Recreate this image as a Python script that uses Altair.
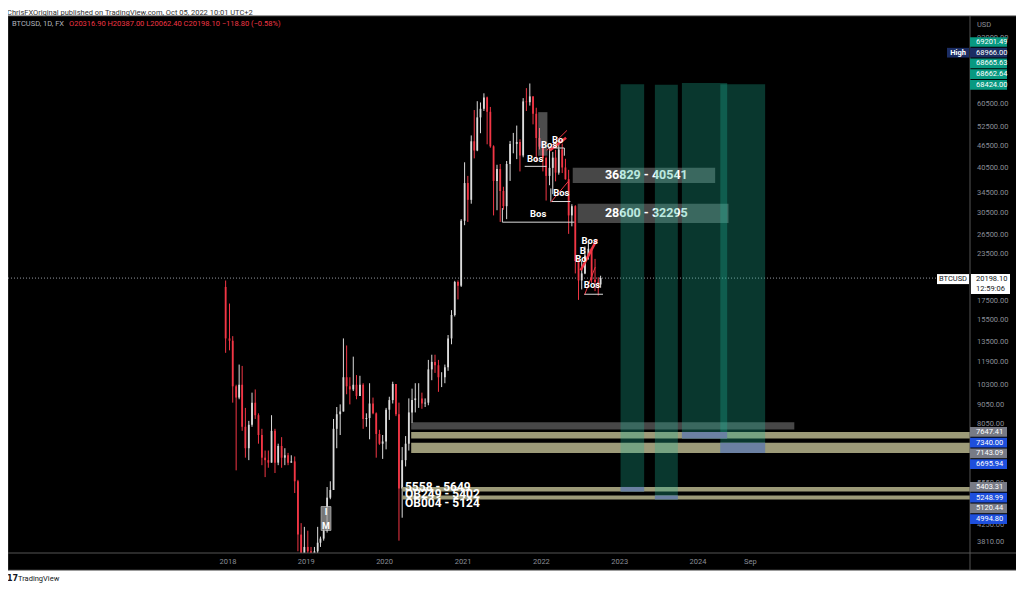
import math
import altair as alt
import pandas as pd

# ---------------- values ----------------
candle_dates = ["2017-12-21", "2018-01-08", "2018-01-23", "2018-02-08", "2018-02-22", "2018-03-08", "2018-03-23",
                "2018-04-08", "2018-04-23", "2018-05-08", "2018-05-23", "2018-06-08", "2018-06-23", "2018-07-08",
                "2018-07-23", "2018-08-08", "2018-08-23", "2018-09-08", "2018-09-23", "2018-10-08", "2018-10-23",
                "2018-11-08", "2018-11-23", "2018-12-08", "2018-12-23", "2019-01-08", "2019-01-23", "2019-02-08",
                "2019-02-23", "2019-03-08", "2019-03-23", "2019-04-08", "2019-04-23", "2019-05-08", "2019-05-23",
                "2019-06-08", "2019-06-23", "2019-07-08", "2019-07-23", "2019-08-08", "2019-08-23", "2019-09-08",
                "2019-09-23", "2019-10-08", "2019-10-23", "2019-11-08", "2019-11-23", "2019-12-08", "2019-12-23",
                "2020-01-08", "2020-01-23", "2020-02-08", "2020-02-23", "2020-03-08", "2020-03-23", "2020-04-08",
                "2020-04-23", "2020-05-08", "2020-05-23", "2020-06-08", "2020-06-23", "2020-07-08", "2020-07-23",
                "2020-08-08", "2020-08-23", "2020-09-08", "2020-09-23", "2020-10-08", "2020-10-23", "2020-11-08",
                "2020-11-23", "2020-12-08", "2020-12-23", "2021-01-08", "2021-01-23", "2021-02-08", "2021-02-22",
                "2021-03-08", "2021-03-23", "2021-04-08", "2021-04-23", "2021-05-08", "2021-05-23", "2021-06-08",
                "2021-06-23", "2021-07-08", "2021-07-23", "2021-08-08", "2021-08-23", "2021-09-08", "2021-09-23",
                "2021-10-08", "2021-10-23", "2021-11-08", "2021-11-23", "2021-12-08", "2021-12-23", "2022-01-08",
                "2022-01-23", "2022-02-08", "2022-02-23", "2022-03-08", "2022-03-23", "2022-04-08", "2022-04-23",
                "2022-05-08", "2022-05-23", "2022-06-08", "2022-06-23", "2022-07-08", "2022-07-23", "2022-08-08",
                "2022-08-23", "2022-09-08", "2022-09-23", "2022-10-04"]
candle_open = [19100, 13800, 13600, 10200, 9500, 10300, 7900, 6900, 8000, 9200, 8500, 7500, 6500, 6400,
               6300, 7700, 6300, 7000, 6500, 6600, 6300, 6350, 5600, 4000, 3300, 3700, 3600, 3450,
               3600, 3800, 3900, 4100, 5050, 5300, 7800, 8550, 8700, 10800, 10200, 10000, 10300, 9600,
               10300, 8300, 8350, 9150, 8600, 7550, 7100, 7200, 8800, 9350, 10350, 8550, 5350, 6400,
               7100, 8650, 9350, 9450, 9450, 9150, 9200, 11350, 11900, 11650, 10800, 10800, 11500, 13800,
               16000, 19700, 19250, 29000, 36800, 33100, 47900, 45200, 55700, 58800, 63200, 57700, 46400, 37300,
               40200, 35000, 31800, 41500, 47100, 47100, 47700, 43800, 61600, 61300, 63600, 57000, 48900, 46300,
               43100, 38500, 40500, 43200, 39300, 45500, 40600, 37700, 30000, 31800, 22500, 19900, 20800, 23300,
               24300, 20000, 19700, 19400]
candle_high = [19890, 17200, 14000, 10300, 11700, 11600, 8900, 8200, 9800, 10000, 8600, 7800, 6800, 6800,
               8500, 7800, 7100, 7400, 6900, 6700, 6600, 6550, 5650, 4300, 4200, 4100, 3700, 3700,
               4200, 3950, 4150, 5400, 5600, 8300, 8950, 9100, 13800, 13200, 10800, 12300, 10950, 10900,
               10400, 8600, 10400, 9500, 8650, 7750, 7500, 8900, 9550, 10500, 10350, 9200, 6950, 7450,
               9450, 10050, 10400, 10400, 9800, 9450, 12050, 12450, 12450, 12050, 11150, 11700, 14100, 16500,
               19850, 19900, 29300, 41950, 38500, 49700, 58350, 61700, 61200, 64850, 63500, 59500, 46700, 41300,
               41500, 35950, 42300, 48000, 50500, 52900, 48500, 62900, 67000, 69000, 63700, 59200, 52100, 47900,
               43500, 45800, 44800, 45400, 48200, 47200, 42900, 40000, 32200, 32000, 22900, 22500, 24650, 25200,
               24400, 22800, 20300, 20500]
candle_low = [12600, 12800, 9200, 6000, 9400, 7700, 6500, 6400, 7900, 8300, 7100, 6200, 5750, 6100,
              6300, 5900, 6200, 6100, 6200, 6200, 6300, 5200, 3600, 3200, 3250, 3550, 3400, 3400,
              3550, 3700, 3850, 4050, 5000, 5300, 6900, 7500, 8700, 9700, 9100, 9900, 9400, 9600,
              7800, 7900, 7300, 8550, 6500, 7050, 6450, 6850, 8250, 9150, 8450, 3850, 4450, 6150,
              6800, 8100, 8650, 8900, 8850, 8950, 9050, 10600, 11100, 9850, 10150, 10400, 11250, 13300,
              15850, 17650, 19100, 28200, 28800, 32300, 43000, 45000, 50400, 58000, 47000, 46000, 30000, 31000,
              28800, 31100, 29300, 37300, 44400, 42800, 39600, 43300, 58000, 60000, 53300, 42000, 45500, 39600,
              32950, 36300, 34300, 37200, 38800, 39200, 37600, 26700, 28000, 20800, 17600, 18800, 20700, 22700,
              19600, 18600, 18100, 19000]
candle_close = [13800, 13600, 10200, 9500, 10300, 7900, 6900, 8000, 9200, 8500, 7500, 6500, 6400, 6300,
                7700, 6300, 7000, 6500, 6600, 6300, 6350, 5600, 4000, 3300, 3700, 3600, 3450, 3600,
                3800, 3900, 4100, 5050, 5300, 7800, 8550, 8700, 10800, 10200, 10000, 10300, 9600, 10300,
                8300, 8350, 9150, 8600, 7550, 7100, 7200, 8800, 9350, 10350, 8550, 5350, 6400, 7100,
                8650, 9350, 9450, 9450, 9150, 9200, 11350, 11900, 11650, 10800, 10800, 11500, 13800, 16000,
                19700, 19250, 29000, 36800, 33100, 47900, 45200, 55700, 58800, 63200, 57700, 46400, 37300, 40200,
                35000, 31800, 41500, 47100, 47100, 47700, 43800, 61600, 61300, 63600, 57000, 48900, 46300, 43100,
                38500, 40500, 43200, 39300, 45500, 40600, 37700, 30000, 31800, 22500, 19900, 20800, 23300, 24300,
                20000, 19700, 19400, 20198.1]

price_ticks = [92000, 60500, 52500, 46500, 40500, 34500, 30500, 26500, 23500,
               17500, 15500, 13500, 11900, 10300, 9050, 8050, 5550, 4250, 3810]
time_ticks = ["2018-01-01", "2019-01-01", "2020-01-01", "2021-01-01", "2022-01-01",
              "2023-01-01", "2024-01-01", "2024-09-01"]
time_labels = ["2018", "2019", "2020", "2021", "2022", "2023", "2024", "Sep"]

badge_values = [69201.49, 68966.00, 68665.63, 68662.64, 68424.00,
                7647.41, 7340.00, 7143.09, 6695.94, 5403.31, 5248.99, 5120.44, 4994.80]
badge_kinds = ["green", "navy", "green", "green", "green",
               "gray", "blue", "gray", "blue", "gray", "blue", "gray", "blue"]
last_price = 20198.10
last_clock = "12:59:06"

zone_start = ["2023-01-05", "2023-06-14", "2023-10-18", "2024-04-14"]
zone_end = ["2023-04-25", "2023-09-29", "2024-05-16", "2024-11-09"]
zone_top = [68665.63, 68424.00, 69201.49, 68662.64]
zone_bottom = [5248.99, 4994.80, 7340.00, 6695.94]
fill_top = [5403.31, 5120.44, 7647.41, 7143.09]
fill_bottom = [5248.99, 4994.80, 7340.00, 6695.94]

band_start = ["2020-05-04", "2020-05-04", "2020-03-23", "2020-03-23"]
band_end = ["2028-01-01", "2028-01-01", "2028-01-01", "2028-01-01"]
band_top = [7647.41, 7143.09, 5403.31, 5120.44]
band_bottom = [7340.00, 6695.94, 5248.99, 4994.80]

grey_band_start = ["2020-05-04"]
grey_band_end = ["2025-03-25"]
grey_band_top = [8130]
grey_band_bottom = [7760]

zone_box_start = ["2022-05-27", "2022-06-19"]
zone_box_end = ["2024-03-21", "2024-05-22"]
zone_box_top = [40541, 32295]
zone_box_bottom = [36829, 28600]
zone_box_label = ["36829 - 40541", "28600 - 32295"]
zone_box_label_date = ["2022-10-24", "2022-10-24"]

ob_start = ["2021-12-17"]
ob_end = ["2022-01-29"]
ob_top = [57570]
ob_bottom = [43730]

im_start = ["2019-03-11"]
im_end = ["2019-04-26"]
im_top = [4775]
im_bottom = [4107]
im_text = ["I", "M"]
im_text_date = ["2019-04-03", "2019-04-03"]
im_text_price = [4620, 4210]

bos_text = ["Bos", "Bos", "Bos", "Bos", "Bo", "Bos", "B", "Bo", "Bos"]
bos_date = ["2021-12-03", "2021-12-17", "2022-04-04", "2022-02-06", "2022-03-18",
            "2022-08-14", "2022-07-13", "2022-07-04", "2022-08-25"]
bos_price = [42700, 30270, 34550, 46790, 48260, 25550, 23910, 22750, 19310]

seg_d1 = ["2021-10-15", "2021-07-03", "2021-07-03", "2022-02-14", "2022-02-14", "2022-02-14",
          "2022-01-25", "2022-02-02", "2022-04-18", "2022-07-21", "2022-07-21"]
seg_p1 = [40890, 28750, 31420, 32750, 35570, 32610, 45160, 45910, 45910, 18150, 18240]
seg_d2 = ["2022-01-25", "2022-06-04", "2021-07-03", "2022-05-16", "2022-02-14", "2022-05-07",
          "2022-04-30", "2022-04-18", "2022-04-18", "2022-09-09", "2022-10-15"]
seg_p2 = [40890, 28750, 28750, 32750, 32750, 37220, 51300, 45910, 43730, 21650, 18240]
seg_kind = ["bracket", "bracket", "bracket", "bracket", "bracket", "diag",
            "diag", "bracket", "bracket", "diag", "bracket"]

red_d1 = ["2022-02-09", "2022-07-03"]
red_p1 = [45160, 21210]
red_d2 = ["2022-04-26", "2022-09-17"]
red_p2 = [48990, 25800]

level_text = ["5558 - 5649", "OB249 - 5402", "OB004 - 5124"]
level_date = ["2020-04-05", "2020-04-05", "2020-04-05"]
level_price = [5402, 5182, 4892]

header_text = "ChrisFXOriginal published on TradingView.com, Oct 05, 2022 10:01 UTC+2"
symbol_text = "BTCUSD, 1D, FX"
ohlc_text = "O20316.90  H20387.00  L20062.40  C20198.10  \u2212118.80 (\u22120.58%)"

# ---------------- layout ----------------
W, H = 962, 537
X_DOMAIN = [alt.DateTime(year=2018, month=1, date=1), alt.DateTime(year=2024, month=1, date=1)]
X_RANGE = [215, 695]
Y_DOMAIN = [3810, 60500]
Y_RANGE = [526.3, 88.3]
xs = alt.Scale(domain=X_DOMAIN, range=X_RANGE, nice=False)
ys = alt.Scale(type="log", domain=Y_DOMAIN, range=Y_RANGE, nice=False)
PPL = (Y_RANGE[0] - Y_RANGE[1]) / math.log(Y_DOMAIN[1] / Y_DOMAIN[0])


def ypix(p):
    return Y_RANGE[1] + (math.log(Y_DOMAIN[1]) - math.log(p)) * PPL


def price_at(py):
    return math.exp(math.log(Y_DOMAIN[1]) - (py - Y_RANGE[1]) / PPL)


def X(f):
    return alt.X(f, type="temporal", scale=xs, axis=None)


def Y(f):
    return alt.Y(f, type="quantitative", scale=ys, axis=None)


FONT = "Roboto"
one = pd.DataFrame({"a": [0]})

# ---------------- tables ----------------
candles = pd.DataFrame({"date": candle_dates, "open": candle_open, "high": candle_high,
                        "low": candle_low, "close": candle_close})
candles["dir"] = ["up" if c >= o else "down" for o, c in zip(candles["open"], candles["close"])]
cscale = alt.Scale(domain=["up", "down"], range=["#dcdcdc", "#f23645"])

panel = alt.Chart(one).mark_rect(color="#000000", stroke="#3a3a3a", strokeWidth=1).encode(
    x=alt.value(0), x2=alt.value(1009), y=alt.value(0), y2=alt.value(554))

price_line = alt.Chart(pd.DataFrame({"p": [last_price]})).mark_rule(
    color="#9598a1", strokeDash=[1, 2], strokeWidth=1).encode(
    x=alt.value(0), x2=alt.value(W), y=Y("p"))

wicks = alt.Chart(candles).mark_rule(clip=True, strokeWidth=1).encode(
    x=X("date"), y=Y("low"), y2=alt.Y2("high"),
    color=alt.Color("dir:N", scale=cscale, legend=None))
bodies = alt.Chart(candles).mark_bar(clip=True, size=1.8).encode(
    x=X("date"), y=Y("open"), y2=alt.Y2("close"),
    color=alt.Color("dir:N", scale=cscale, legend=None))

ob = alt.Chart(pd.DataFrame({"s": ob_start, "e": ob_end, "t": ob_top, "b": ob_bottom})).mark_rect(
    clip=True, color="#ffffff", opacity=0.3).encode(x=X("s"), x2=alt.X2("e"), y=Y("t"), y2=alt.Y2("b"))

im_box = alt.Chart(pd.DataFrame({"s": im_start, "e": im_end, "t": im_top, "b": im_bottom})).mark_rect(
    clip=True, color="#8c8c8c", opacity=0.85, stroke="#d0d0d0", strokeWidth=0.8).encode(
    x=X("s"), x2=alt.X2("e"), y=Y("t"), y2=alt.Y2("b"))
im_txt = alt.Chart(pd.DataFrame({"d": im_text_date, "p": im_text_price, "t": im_text})).mark_text(
    color="#ffffff", font=FONT, fontSize=9, fontWeight="bold").encode(x=X("d"), y=Y("p"), text="t:N")

grey_band = alt.Chart(pd.DataFrame({"s": grey_band_start, "e": grey_band_end, "t": grey_band_top,
                                    "b": grey_band_bottom})).mark_rect(
    clip=True, color="#ffffff", opacity=0.28).encode(x=X("s"), x2=alt.X2("e"), y=Y("t"), y2=alt.Y2("b"))

bands = alt.Chart(pd.DataFrame({"s": band_start, "e": band_end, "t": band_top, "b": band_bottom})).mark_rect(
    clip=True, color="#9c9a78").encode(x=X("s"), x2=alt.X2("e"), y=Y("t"), y2=alt.Y2("b"))

boxes_df = pd.DataFrame({"s": zone_box_start, "e": zone_box_end, "t": zone_box_top, "b": zone_box_bottom,
                         "lab": zone_box_label, "ld": zone_box_label_date})
boxes_df["mid"] = [math.sqrt(t * b) for t, b in zip(boxes_df["t"], boxes_df["b"])]
boxes = alt.Chart(boxes_df).mark_rect(clip=True, color="#ffffff", opacity=0.28).encode(
    x=X("s"), x2=alt.X2("e"), y=Y("t"), y2=alt.Y2("b"))
boxes_txt = alt.Chart(boxes_df).mark_text(color="#ffffff", font=FONT, fontSize=12.5, fontWeight="bold",
                                          align="left", baseline="middle").encode(
    x=X("ld"), y=Y("mid"), text="lab:N")

levels_txt = alt.Chart(pd.DataFrame({"d": level_date, "p": level_price, "t": level_text})).mark_text(
    color="#ffffff", font=FONT, fontSize=12, fontWeight="bold", align="left", baseline="middle").encode(
    x=X("d"), y=Y("p"), text="t:N")

zones_df = pd.DataFrame({"s": zone_start, "e": zone_end, "t": zone_top, "b": zone_bottom,
                         "ft": fill_top, "fb": fill_bottom})
zones = alt.Chart(zones_df).mark_rect(clip=True, color="#1eb799", opacity=0.3).encode(
    x=X("s"), x2=alt.X2("e"), y=Y("t"), y2=alt.Y2("b"))
fills = alt.Chart(zones_df).mark_rect(clip=True, color="#6a7ea3", opacity=0.95).encode(
    x=X("s"), x2=alt.X2("e"), y=Y("ft"), y2=alt.Y2("fb"))

segs = pd.DataFrame({"d1": seg_d1, "p1": seg_p1, "d2": seg_d2, "p2": seg_p2, "k": seg_kind})
seg_lines = alt.Chart(segs).mark_rule(strokeWidth=1).encode(
    x=X("d1"), x2=alt.X2("d2"), y=Y("p1"), y2=alt.Y2("p2"),
    color=alt.Color("k:N", scale=alt.Scale(domain=["bracket", "diag"], range=["#b8b8b8", "#ffffff"]),
                    legend=None))
red_lines = alt.Chart(pd.DataFrame({"d1": red_d1, "p1": red_p1, "d2": red_d2, "p2": red_p2})).mark_rule(
    strokeWidth=2.5, color="#f23645").encode(x=X("d1"), x2=alt.X2("d2"), y=Y("p1"), y2=alt.Y2("p2"))
bos = alt.Chart(pd.DataFrame({"d": bos_date, "p": bos_price, "t": bos_text})).mark_text(
    color="#ffffff", font=FONT, fontSize=9.5, fontWeight="bold", baseline="middle").encode(
    x=X("d"), y=Y("p"), text="t:N")

divider = alt.Chart(one).mark_rule(color="#555555", strokeWidth=1).encode(
    x=alt.value(962), y=alt.value(0), y2=alt.value(554))
xaxis_line = alt.Chart(one).mark_rule(color="#555555", strokeWidth=1).encode(
    x=alt.value(0), x2=alt.value(1009), y=alt.value(537))

# right price axis labels
ticks_df = pd.DataFrame({"p": price_ticks, "lab": [f"{v:.2f}" for v in price_ticks]})
tick_txt = alt.Chart(ticks_df).mark_text(color="#8a8d96", font=FONT, fontSize=7.5, align="left",
                                         baseline="middle").encode(
    x=alt.value(969), y=Y("p"), text="lab:N")
usd = alt.Chart(one).mark_text(text="USD", color="#8a8d96", font=FONT, fontSize=7.5, align="left",
                               baseline="middle").encode(x=alt.value(969), y=alt.value(9))

# price badges, stacked the way the platform stacks overlapping labels
BADGE_H = 10.7
vals_px = [ypix(v) for v in badge_values]
clusters = []
for i, py in enumerate(vals_px):
    if clusters and py - vals_px[clusters[-1][-1]] < BADGE_H:
        clusters[-1].append(i)
    else:
        clusters.append([i])
pos = [0.0] * len(vals_px)
for cl in clusters:
    if vals_px[cl[0]] < H / 2:
        base = vals_px[cl[-1]]
        for k, i in enumerate(reversed(cl)):
            pos[i] = base - k * BADGE_H
    else:
        base = vals_px[cl[0]]
        for k, i in enumerate(cl):
            pos[i] = base + k * BADGE_H
kind_color = {"green": "#089981", "navy": "#1b2d63", "gray": "#787b86", "blue": "#1e4fdc"}
badges_df = pd.DataFrame({
    "lab": [f"{v:.2f}" for v in badge_values],
    "fill": [kind_color[k] for k in badge_kinds],
    "top": [price_at(p - BADGE_H / 2 + 0.5) for p in pos],
    "bot": [price_at(p + BADGE_H / 2 - 0.5) for p in pos],
    "mid": [price_at(p) for p in pos],
    "kind": badge_kinds,
})
badge_rect = alt.Chart(badges_df).mark_rect().encode(
    x=alt.value(962), x2=alt.value(999), y=Y("top"), y2=alt.Y2("bot"),
    color=alt.Color("fill:N", scale=None))
badge_txt = alt.Chart(badges_df).mark_text(color="#ffffff", font=FONT, fontSize=7.5, align="left",
                                           baseline="middle").encode(
    x=alt.value(968), y=Y("mid"), text="lab:N")
high_df = badges_df[badges_df["kind"] == "navy"]
high_rect = alt.Chart(high_df).mark_rect(color="#1b2d63").encode(
    x=alt.value(939), x2=alt.value(961), y=Y("top"), y2=alt.Y2("bot"))
high_txt = alt.Chart(high_df).mark_text(text="High", color="#ffffff", font=FONT, fontSize=7.5,
                                        fontWeight="bold", baseline="middle").encode(
    x=alt.value(950), y=Y("mid"))

lp = ypix(last_price)
last_df = pd.DataFrame({"t1": [price_at(lp - 4)], "b1": [price_at(lp + 6)], "b2": [price_at(lp + 16)],
                        "m1": [price_at(lp + 1)], "m2": [price_at(lp + 10.5)],
                        "v": [f"{last_price:.2f}"], "c": [last_clock]})
last_sym_rect = alt.Chart(last_df).mark_rect(color="#ffffff").encode(
    x=alt.value(929), x2=alt.value(961), y=Y("t1"), y2=alt.Y2("b1"))
last_val_rect = alt.Chart(last_df).mark_rect(color="#ffffff").encode(
    x=alt.value(963), x2=alt.value(1002), y=Y("t1"), y2=alt.Y2("b2"))
last_sym_txt = alt.Chart(last_df).mark_text(text="BTCUSD", color="#131722", font=FONT, fontSize=7.5,
                                            baseline="middle").encode(x=alt.value(945), y=Y("m1"))
last_val_txt = alt.Chart(last_df).mark_text(color="#131722", font=FONT, fontSize=7.5, align="left",
                                            baseline="middle").encode(x=alt.value(968), y=Y("m1"), text="v:N")
last_clk_txt = alt.Chart(last_df).mark_text(color="#131722", font=FONT, fontSize=7.5, align="left",
                                            baseline="middle").encode(x=alt.value(968), y=Y("m2"), text="c:N")

# time axis labels
time_df = pd.DataFrame({"d": time_ticks, "lab": time_labels})
time_txt = alt.Chart(time_df).mark_text(color="#8a8d96", font=FONT, fontSize=7.5, baseline="middle").encode(
    x=X("d"), y=alt.value(546), text="lab:N")

# texts around the panel
header = alt.Chart(one).mark_text(text=header_text, color="#333333", font=FONT, fontSize=7.5, align="left",
                                  baseline="middle").encode(x=alt.value(-1), y=alt.value(-3.5))
symbol = alt.Chart(one).mark_text(text=symbol_text, color="#b2b5be", font=FONT, fontSize=7.5, align="left",
                                  baseline="middle").encode(x=alt.value(4), y=alt.value(7.5))
ohlc = alt.Chart(one).mark_text(text=ohlc_text, color="#f23645", font=FONT, fontSize=7.5, align="left",
                                baseline="middle").encode(x=alt.value(61), y=alt.value(7.5))
logo = alt.Chart(one).mark_text(text="17", color="#131722", font="DejaVu Sans", fontSize=8,
                                fontWeight="bold", align="left", baseline="middle").encode(
    x=alt.value(-1), y=alt.value(562.5))
footer = alt.Chart(one).mark_text(text="TradingView", color="#131722", font=FONT, fontSize=7.5,
                                  align="left", baseline="middle").encode(x=alt.value(10), y=alt.value(562.5))

chart = alt.layer(
    panel, price_line, wicks, bodies, ob, im_box, im_txt, grey_band, bands, boxes, boxes_txt, levels_txt,
    zones, fills, seg_lines, red_lines, bos, divider, xaxis_line, tick_txt, usd, badge_rect, badge_txt,
    high_rect, high_txt, last_sym_rect, last_val_rect, last_sym_txt, last_val_txt, last_clk_txt,
    time_txt, header, symbol, ohlc, logo, footer
).properties(
    width=W, height=H,
    padding={"left": 0, "top": 8, "right": 46, "bottom": 31},
    autosize=alt.AutoSizeParams(type="none"),
    background="#ffffff",
).configure_view(stroke=None)

chart.save("out.html", embed_options={"renderer": "svg", "actions": False})
